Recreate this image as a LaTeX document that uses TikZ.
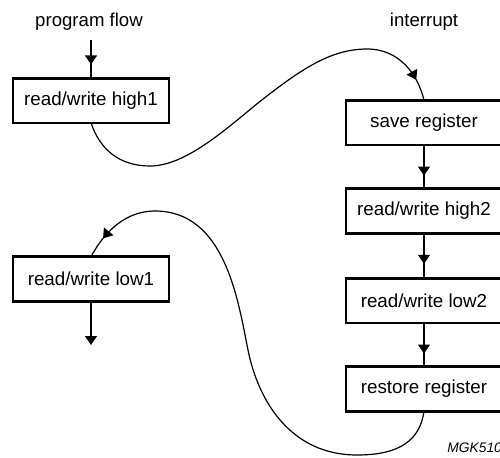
\documentclass[tikz,border=0pt]{standalone}
\usepackage{fontspec}
\setmainfont{Liberation Sans}
\usetikzlibrary{arrows.meta,decorations.markings}
\tikzset{
  box/.style={draw, line width=1.3pt, minimum width=78pt, minimum height=22.3pt,
    inner sep=0pt, outer sep=0pt, font=\fontsize{9.4}{11}\selectfont},
  lbl/.style={font=\fontsize{9.3}{11}\selectfont, inner sep=0pt},
  conn/.style={line width=0.6pt},
  tip/.tip={Triangle[width=6pt,length=4.5pt]},
  midarrow/.style={decoration={markings, mark=at position #1 with {\arrow{tip}}}, postaction={decorate}}
}
\begin{document}
\begin{tikzpicture}[x=0.5pt,y=-0.5pt]
\useasboundingbox (0,0) rectangle (500,457);
\node[lbl] (pflbl) at (89,22) {program flow};
\node[lbl] (intlbl) at (424,22) {interrupt};
\node[box] (h1) at (91,100.5) {read/write high1};
\node[box] (save) at (424,122.5) {save register};
\node[box] (h2) at (424,211) {read/write high2};
\node[box] (l2) at (424,300.5) {read/write low2};
\node[box] (rest) at (424,389) {restore register};
\node[box] (l1) at (91,279) {read/write low1};
\node[font=\fontsize{6.9}{7}\selectfont\itshape, anchor=west, inner sep=0pt] (mgk) at (447,447.5) {MGK510};
\coordinate (pf) at (91,40);
\coordinate (lend) at (91,345);
\draw[conn, midarrow=0.64] (pf) -- (h1);
\draw[conn, midarrow=0.7] (save) -- (h2);
\draw[conn, midarrow=0.68] (h2) -- (l2);
\draw[conn, midarrow=0.7] (l2) -- (rest);
\draw[conn, -tip] (l1) -- (lend);
\draw[conn, midarrow={-11pt}] (h1.south) .. controls (100,150) and (120,166) .. (150,166)
  .. controls (185,166) and (225,130) .. (258,103)
  .. controls (300,70) and (330,49) .. (367,49)
  .. controls (400,49) and (418,75) .. (save.north);
\draw[conn, midarrow={-11pt}] (rest.south) .. controls (420,440) and (400,455) .. (357,455)
  .. controls (290,455) and (258,400) .. (248,350)
  .. controls (238,300) and (225,211) .. (155,211)
  .. controls (120,211) and (100,240) .. (l1.north);
\end{tikzpicture}
\end{document}
